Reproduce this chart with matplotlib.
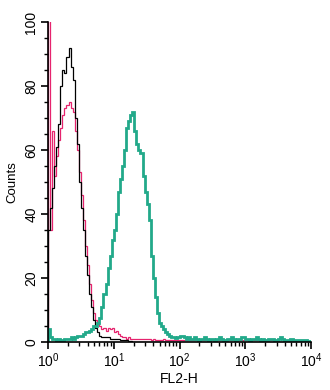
import numpy as np
import matplotlib
matplotlib.use("Agg")
import matplotlib.pyplot as plt
from matplotlib.ticker import MultipleLocator, LogLocator

plt.rcParams['font.family'] = ['Liberation Sans', 'DejaVu Sans']

# histogram channels: 32 per decade, 10^0 .. 10^4
n_per_decade = 32
decades = 4

# isotype control (black)
black_counts = [
    35, 42, 48, 55, 61, 68, 80, 85, 84, 89, 92, 86, 82, 70, 62, 50,
    42, 35, 27, 21, 15, 11, 7, 4.5, 3, 2, 1.5, 1.5, 1.5, 1.5, 1, 1,
    1, 0.8, 0.8, 0.5, 0.5, 0.5, 0.5, 0.3, 0.3, 0, 0, 0, 0, 0, 0, 0,
    0, 0, 0, 0, 0, 0, 0, 0, 0, 0, 0, 0, 0, 0, 0, 0,
    0, 0, 0, 0, 0, 0, 0, 0, 0, 0, 0, 0, 0, 0, 0, 0,
    0, 0, 0, 0, 0, 0, 0, 0, 0, 0, 0, 0, 0, 0, 0, 0,
    0, 0, 0, 0, 0, 0, 0, 0, 0, 0, 0, 0, 0, 0, 0, 0,
    0, 0, 0, 0, 0, 0, 0, 0, 0, 0, 0, 0, 0, 0, 0, 0,
]

# unstained / blocked (pink)
pink_counts = [
    160, 35, 66, 52, 58, 63, 67, 71, 73, 74, 75, 73, 72, 66, 60, 53,
    46, 38, 30, 24, 18, 13, 9, 7, 6, 5, 4, 4.5, 3.5, 4.5, 4, 4.5,
    3, 3.5, 2.5, 2, 1.5, 1.5, 1, 1.5, 1, 1, 1, 0.8, 0.8, 1, 0.8, 0.8,
    0.8, 0.8, 0.5, 0.8, 0.5, 0.5, 0.5, 0.5, 0.8, 0.5, 0.5, 0.5, 0.5, 0.5, 0.5, 0.5,
    0.5, 0.5, 0.5, 0.5, 0.5, 0.5, 0.5, 0.5, 0.5, 0.5, 0.5, 0.5, 0.5, 0.5, 0.5, 0.5,
    0.5, 0.5, 0.5, 0.5, 0.5, 0.5, 0.5, 0.5, 0.5, 0.5, 0.5, 0.5, 0.5, 0.5, 0.5, 0.5,
    0.5, 0.5, 0.5, 0.5, 0.5, 0.5, 0.5, 0.5, 0.5, 0.5, 0.5, 0.5, 0.5, 0.5, 0, 0,
    0, 0, 0, 0, 0, 0, 0, 0, 0, 0, 0, 0, 0, 0, 0, 0,
]

# stained cells (green)
green_counts = [
    4, 1.5, 1, 1, 0.5, 1, 0.5, 0.5, 1, 1, 1, 1.5, 1, 1.5, 2, 2,
    2, 2.5, 3, 3, 3.5, 4, 5, 5, 6, 7.5, 11, 15, 18, 23, 27, 32,
    35, 40, 47, 51, 55, 60, 67, 69, 71, 72, 66, 62, 60, 59, 52, 47,
    43, 38, 27, 20, 14, 9, 6, 5, 4, 3, 2.5, 2, 1.5, 1.5, 1.3, 1.5,
    2, 2, 1.5, 1, 1.5, 1, 1, 1.5, 1, 0.5, 1, 1, 1.5, 1, 0.5, 1,
    1, 0.5, 1, 1.5, 1, 0.5, 0.5, 1, 1, 1.5, 1, 0.5, 1, 1, 1.5, 1.5,
    1, 1, 0.5, 1, 1, 1.5, 1, 0.5, 1, 0.5, 0.5, 1, 1, 1, 0.5, 0.5,
    1, 1.5, 1, 0.5, 0.5, 0.5, 1, 0.5, 0.5, 0.5, 0.5, 0.5, 0.5, 0.5, 0.3, 0.3,
]

edges = np.logspace(0, decades, n_per_decade * decades + 1)

fig = plt.figure(figsize=(3.3, 3.9), dpi=100)
ax = fig.add_axes([48 / 330, 48 / 390, 263 / 330, 320 / 390])

ax.stairs(pink_counts, edges, color='#e6246e', lw=0.9)
ax.stairs(black_counts, edges, color='black', lw=0.9)
ax.stairs(green_counts, edges, color='#22a98a', lw=2.0)

ax.set_xscale('log')
ax.set_xlim(1, 1e4)
ax.set_ylim(0, 100)

ax.spines['top'].set_visible(False)
ax.spines['right'].set_visible(False)
ax.spines['left'].set_linewidth(1.2)
ax.spines['bottom'].set_linewidth(1.2)

ax.yaxis.set_major_locator(MultipleLocator(20))
ax.yaxis.set_minor_locator(MultipleLocator(5))
ax.xaxis.set_major_locator(LogLocator(base=10))
ax.xaxis.set_minor_locator(LogLocator(base=10, subs=np.arange(2, 10)))

ax.tick_params(axis='both', which='major', length=5, width=1.2, labelsize=10, pad=2)
ax.tick_params(axis='both', which='minor', length=3, width=1.0)
for lab in ax.get_yticklabels():
    lab.set_rotation(90)
    lab.set_va('center')

ax.set_ylabel('Counts', fontsize=9.5, labelpad=4)
ax.set_xlabel('FL2-H', fontsize=10, labelpad=1)

fig.savefig('out.png', dpi=100)
